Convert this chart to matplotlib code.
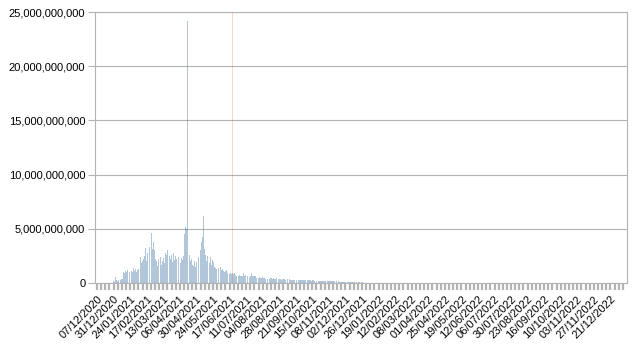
import matplotlib
matplotlib.use("Agg")
import matplotlib.pyplot as plt
import matplotlib.ticker as mticker
import numpy as np
import pandas as pd

plt.rcParams['font.family'] = ['Liberation Sans', 'DejaVu Sans']

# Categories: daily dates
start_date = "2020-12-07"
n_days = 768
dates = pd.date_range(start_date, periods=n_days, freq="D")
label_every = 24
tick_every = 6

# Series 1 (billions), phase by phase
s1_dec = [0]*23
s1_jan = [0.15,0.2,0.1,0.3,0.55,0.25,0.2,0.2,0.3,0.25,0.2,0.3,0.35,0.3,0.4]
s1_jan2 = [1.0,1.2,0.9,1.1,1.3,1.0,1.2,1.1,1.4,1.0,1.2,1.3,1.1,1.0,1.2,1.4,1.1,1.2,1.3,1.0,1.5,1.2,1.3,1.4]
s1_feb = [1.6,2.4,1.8,1.5,2.0,2.2,1.7,2.5,3.2,2.6,2.0,2.8,3.6,3.0,3.3]
s1_feb2 = [4.0,5.3,4.6,3.1,5.0,3.8,3.0,2.5,2.2,2.0]
s1_mar = [1.8,1.6,2.2,1.5,1.9,2.4,1.7,1.5,2.0,2.3,1.6,1.8]
s1_mar2 = [2.8,3.5,2.6,3.0,4.8,3.6,2.5,2.2]
s1_apr = [2.0,2.6,1.9,2.3,2.8,2.1,1.8,2.5,2.2,1.9,2.7,2.4,2.0,2.6,1.8,2.3,2.9,2.1,2.5]
s1_apr2 = [3.0,4.5,5.2,4.8,5.0,24.2,4.2,3.6,2.6,2.0,1.8,2.2]
s1_may = [1.7,1.9,1.6,2.0,1.8,1.5,1.9,2.1,1.7,2.4,2.0,2.6]
s1_may2 = [3.0,3.8,2.8,4.2,6.2,3.9,3.1,2.6]
s1_jun = [2.3,2.0,2.5,1.9,2.2,1.8,2.4,2.0,1.7,2.1,1.6,1.9,1.5,1.7]
s1_jun2 = [1.4,1.3,1.5,1.2,1.4,1.1,1.3,1.5,1.2,1.0,1.3,1.1,1.2,1.0,1.1]
s1_jul = [0.9,1.2,0.9,1.0,1.1,0.8,0.9,1.0,0.8,0.9,0.7,0.8,0.9,0.7]
s1_aug = [0.7,0.6,0.7,0.65,0.6,0.7,0.75,0.6,0.65,0.7,0.6,0.9,0.65,0.6,0.7,0.55,0.6,0.65,
          0.7,0.6,0.55,0.6,0.65,0.9,0.6,0.55,0.6,0.65,0.55,0.6,0.5,0.55,0.6,0.5,0.55,0.5]
s1_sep = [0.5,0.45,0.5,0.55,0.45,0.5,0.45,0.4,0.5,0.45,0.4,0.45,0.5,0.4,0.45,0.4,0.45,0.35,
          0.4,0.45,0.4,0.35,0.4,0.45,0.4,0.35,0.4,0.35,0.4,0.35,0.3,0.35,0.4,0.35,0.3,0.35,
          0.3,0.35,0.3,0.35,0.3,0.3,0.35,0.3]
s1_nov = [0.3,0.28,0.32,0.3,0.27,0.3,0.33,0.28,0.3,0.26,0.3,0.28,0.25,0.3,0.27,0.26,0.3,0.25,
          0.28,0.26,0.24,0.27,0.25,0.28,0.24,0.26,0.23,0.25,0.27,0.24,0.22,0.25,0.23,0.24,0.22,
          0.25,0.21,0.23,0.22,0.2,0.23,0.21,0.22,0.2,0.21,0.19,0.22,0.2,0.19,0.2]
s1_jan22 = [0.2,0.18,0.19,0.17,0.18,0.16,0.18,0.15,0.17,0.16,0.15,0.16,0.14,0.15,0.13,0.15,
            0.14,0.12,0.13,0.14,0.12,0.11,0.12,0.13,0.11,0.1,0.11,0.1,0.12,0.1,0.09,0.1,0.09,
            0.08,0.09,0.1,0.08,0.07,0.08,0.07,0.08,0.06,0.07,0.06,0.07,0.06,0.05,0.06,0.05,
            0.06,0.05,0.04,0.05,0.04,0.05,0.04,0.04,0.03,0.04,0.03]

s1 = (s1_dec + s1_jan + s1_jan2 + s1_feb + s1_feb2 + s1_mar + s1_mar2 + s1_apr + s1_apr2
      + s1_may + s1_may2 + s1_jun + s1_jun2 + s1_jul + s1_aug + s1_sep + s1_nov + s1_jan22)

# Series 2 (billions): a single spike visible
s2_day = ["2021-06-21"]
s2_val = [27.0]

fig = plt.figure(figsize=(6.39, 3.44), dpi=100)
ax = fig.add_axes([95/639, 1-283/344, (627-95)/639, (283-12)/344])

x1 = np.arange(len(s1))
ax.bar(x1, np.array(s1)*1e9, width=0.85, color='#004586', alpha=0.3, linewidth=0, zorder=3)
x2 = [(pd.Timestamp(d) - dates[0]).days for d in s2_day]
ax.bar(x2, np.array(s2_val)*1e9, width=0.85, color='#ff420e', alpha=0.22, linewidth=0, zorder=3)

ax.set_ylim(0, 25e9)
ax.set_xlim(-3, n_days)
ax.yaxis.set_major_locator(mticker.MultipleLocator(5e9))
ax.yaxis.set_major_formatter(mticker.FuncFormatter(lambda v, p: f"{int(round(v)):,}"))
ax.grid(axis='y', color='#b3b3b3', linewidth=0.8, zorder=1)
ax.set_axisbelow(True)

major = np.arange(0, n_days, label_every)
ax.set_xticks(major)
ax.set_xticklabels([dates[i].strftime("%d/%m/%Y") for i in major], rotation=45,
                   ha='right', va='top', rotation_mode='anchor', fontsize=8)
ax.set_xticks(np.arange(0, n_days, tick_every), minor=True)
ax.tick_params(axis='x', which='both', length=5, width=1.6, color='#b3b3b3', pad=3)
ax.tick_params(axis='y', length=5, width=0.8, color='#b3b3b3', labelsize=8, pad=2)

for side in ['left', 'right', 'bottom', 'top']:
    ax.spines[side].set_color('#b3b3b3')
    ax.spines[side].set_linewidth(0.8)

fig.savefig("out.png", dpi=100)
